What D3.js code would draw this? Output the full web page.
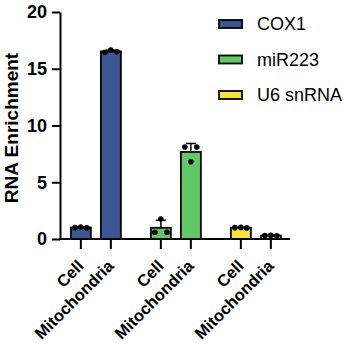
<!DOCTYPE html>
<html>
<head>
<meta charset="utf-8">
<script src="https://cdn.jsdelivr.net/npm/d3@7"></script>
<style>
  body { margin: 0; background: #fff; }
  svg { font-family: "Liberation Sans", Arial, sans-serif; }
</style>
</head>
<body>
<div id="chart"></div>
<script>
const genes = ["COX1", "miR223", "U6 snRNA"];
const samples = ["Cell", "Mitochondria"];
const colors = ["#3c5694", "#62c765", "#f4e23c"];
// replicate values per gene, [cell, mito]
const cox1 = [[1.0, 1.05, 0.98], [16.45, 16.65, 16.5]];
const mir223 = [[0.6, 1.76, 0.6], [8.1, 6.8, 8.1]];
const u6 = [[1.0, 1.02, 0.98], [0.3, 0.32, 0.28]];
const yTicks = [0, 5, 10, 15, 20];

const reps = [cox1, mir223, u6];
const W = 344, H = 344;

const svg = d3.select('#chart').append('svg')
    .attr('width', W)
    .attr('height', H);

const x0 = d3.scaleBand().domain(genes).range([55.85, 295.85]);
const x1 = d3.scalePoint().domain(samples).range([-15, 15]);
const y = d3.scaleLinear().domain([0, 20]).range([239, 12]);
const barW = 20;

const rows = [];
genes.forEach((g, gi) => {
    samples.forEach((s, si) => {
        const vals = reps[gi][si];
        const m = d3.mean(vals), sd = d3.deviation(vals);
        rows.push({gene: g, sample: s, gi, vals, mean: m, sd});
    });
});
const cx = d => x0(d.gene) + x0.bandwidth() / 2 + x1(d.sample);

// bars
svg.selectAll('rect.bar')
    .data(rows)
    .enter()
    .append('rect')
        .attr('class', 'bar')
        .attr('x', d => cx(d) - barW / 2)
        .attr('y', d => y(d.mean))
        .attr('width', barW)
        .attr('height', d => y(0) - y(d.mean))
        .attr('fill', d => colors[d.gi])
        .attr('stroke', '#000')
        .attr('stroke-width', 1.8);

// error bars (mean + SD)
svg.selectAll('line.err')
    .data(rows)
    .enter()
    .append('line')
        .attr('x1', cx).attr('x2', cx)
        .attr('y1', d => y(d.mean))
        .attr('y2', d => y(d.mean + d.sd))
        .attr('stroke', '#000').attr('stroke-width', 1.5);
svg.selectAll('line.cap')
    .data(rows)
    .enter()
    .append('line')
        .attr('x1', d => cx(d) - 5).attr('x2', d => cx(d) + 5)
        .attr('y1', d => y(d.mean + d.sd))
        .attr('y2', d => y(d.mean + d.sd))
        .attr('stroke', '#000').attr('stroke-width', 1.5);

// points
const pts = rows.flatMap(d => d.vals.map((v, i) => ({x: cx(d) + (i - 1) * 6, v})));
svg.selectAll('circle')
    .data(pts)
    .enter()
    .append('circle')
        .attr('cx', d => d.x)
        .attr('cy', d => y(d.v))
        .attr('r', 2.8)
        .attr('fill', '#000');

// y axis
svg.append('g')
    .attr('transform', 'translate(60,0)')
    .call(d3.axisLeft(y).tickValues(yTicks).tickSize(8).tickSizeOuter(0))
    .call(g => g.selectAll('path,line').attr('stroke-width', 2))
    .call(g => g.selectAll('text')
        .attr('font-size', 18).attr('font-weight', 'bold')
        .attr('font-family', '"Liberation Sans", Arial, sans-serif').attr('fill', '#000')
        .attr('x', -13));

// x axis
svg.append('line')
    .attr('x1', 59).attr('x2', 290)
    .attr('y1', y(0)).attr('y2', y(0))
    .attr('stroke', '#000').attr('stroke-width', 2);
svg.selectAll('line.xtick')
    .data(rows)
    .enter()
    .append('line')
        .attr('x1', cx).attr('x2', cx)
        .attr('y1', y(0)).attr('y2', y(0) + 10)
        .attr('stroke', '#000').attr('stroke-width', 2);
svg.selectAll('text.xlab')
    .data(rows)
    .enter()
    .append('text')
        .attr('text-anchor', 'end')
        .attr('font-size', 16.5)
        .attr('font-weight', 'bold')
        .attr('transform', d => `translate(${cx(d) + 4},${y(0) + 28}) rotate(-45)`)
        .text(d => d.sample);

svg.append('text')
    .attr('text-anchor', 'middle')
    .attr('font-size', 19)
    .attr('font-weight', 'bold')
    .attr('transform', `translate(18,128) rotate(-90)`)
    .text('RNA Enrichment');

// legend
const leg = svg.selectAll('g.leg')
    .data(genes)
    .enter()
    .append('g')
        .attr('transform', (d, i) => `translate(219,${24 + i * 35.5})`);
leg.append('rect')
    .attr('x', 0).attr('y', -4)
    .attr('width', 23).attr('height', 8)
    .attr('fill', (d, i) => colors[i])
    .attr('stroke', '#000').attr('stroke-width', 1.8);
leg.append('text')
    .attr('x', 38).attr('y', 0)
    .attr('dy', '0.35em')
    .attr('font-size', 18)
    .text(d => d);
</script>
</body>
</html>
